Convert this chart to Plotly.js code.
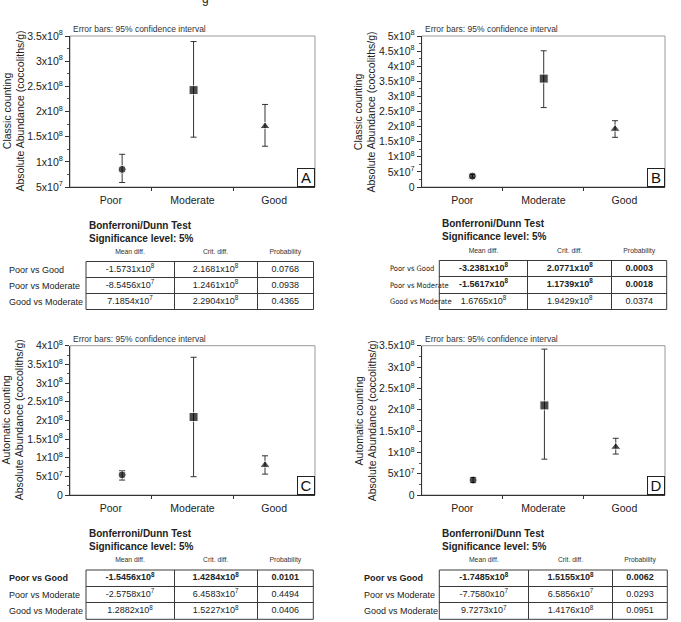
<!DOCTYPE html>
<html>
<head>
<meta charset="utf-8">
<script src="https://cdn.plot.ly/plotly-3.0.1.min.js"></script>
<style>html,body{margin:0;padding:0;background:#fff}</style>
</head>
<body>
<div id="chart" style="width:681px;height:622px"></div>
<script>
// ---- data -------------------------------------------------------------
const categories = ['Poor', 'Moderate', 'Good'];

// A: classic counting, site 1
const meanA = [8.5e7, 2.425e8, 1.705e8];
const lowA  = [5.9e7, 1.49e8, 1.31e8];
const highA = [1.15e8, 3.39e8, 2.14e8];
// B: classic counting, site 2
const meanB = [3.6e7, 3.59e8, 1.92e8];
const lowB  = [3.0e7, 2.63e8, 1.645e8];
const highB = [4.2e7, 4.51e8, 2.195e8];
// C: automatic counting, site 1
const meanC = [5.4e7, 2.09e8, 8.0e7];
const lowC  = [4.0e7, 4.9e7, 5.6e7];
const highC = [6.5e7, 3.69e8, 1.05e8];
// D: automatic counting, site 2
const meanD = [3.5e7, 2.10e8, 1.125e8];
const lowD  = [2.9e7, 8.4e7, 9.6e7];
const highD = [4.1e7, 3.42e8, 1.33e8];

const yRangeA = [5e7, 3.5e8];
const yRangeB = [0, 5e8];
const yRangeC = [0, 4e8];
const yRangeD = [0, 3.5e8];
const yTicksA = [5e7, 1e8, 1.5e8, 2e8, 2.5e8, 3e8, 3.5e8];
const yTicksB = [0, 5e7, 1e8, 1.5e8, 2e8, 2.5e8, 3e8, 3.5e8, 4e8, 4.5e8, 5e8];
const yTicksC = [0, 5e7, 1e8, 1.5e8, 2e8, 2.5e8, 3e8, 3.5e8, 4e8];
const yTicksD = [0, 5e7, 1e8, 1.5e8, 2e8, 2.5e8, 3e8, 3.5e8];

// Bonferroni/Dunn post-hoc tables
const comparisons = ['Poor vs Good', 'Poor vs Moderate', 'Good vs Moderate'];
const columnHeads = ['Mean diff.', 'Crit. diff.', 'Probability'];

const meanDiffA = [-1.5731e8, -8.5456e7, 7.1854e7];
const critDiffA = [2.1681e8, 1.2461e8, 2.2904e8];
const probA     = [0.0768, 0.0938, 0.4365];
const sigA      = [false, false, false];

const meanDiffB = [-3.2381e8, -1.5617e8, 1.6765e8];
const critDiffB = [2.0771e8, 1.1739e8, 1.9429e8];
const probB     = [0.0003, 0.0018, 0.0374];
const sigB      = [true, true, false];

const meanDiffC = [-1.5456e8, -2.5758e7, 1.2882e8];
const critDiffC = [1.4284e8, 6.4583e7, 1.5227e8];
const probC     = [0.0101, 0.4494, 0.0406];
const sigC      = [true, false, false];

const meanDiffD = [-1.7485e8, -7.7580e7, 9.7273e7];
const critDiffD = [1.5155e8, 6.5856e7, 1.4176e8];
const probD     = [0.0062, 0.0293, 0.0951];
const sigD      = [true, false, false];

// ---- helpers ----------------------------------------------------------
const W = 681, H = 622;
const FONT = 'Liberation Sans, Arial, Helvetica, sans-serif';
const NARROW = 'Liberation Sans Narrow, DejaVu Sans Condensed, Liberation Sans, Arial, sans-serif';
const INK = '#222';
const GRID = '#3a3a3a';

function sciTick(v) {
  if (v === 0) return '0';
  const [m, e] = v.toExponential().split('e');
  return m + 'x10<sup>' + (+e) + '</sup>';
}
function sciCell(v) {
  const [m, e] = v.toExponential(4).split('e');
  return m + 'x10<sup>' + (+e) + '</sup>';
}
const px = x => x / W;
const py = y => 1 - y / H;
const axId = (letter, n) => n === 1 ? letter : letter + n;           // 'x', 'x2', ...
const axKey = (letter, n) => n === 1 ? letter + 'axis' : letter + 'axis' + n;
const bold = (s, on) => on ? '<b>' + s + '</b>' : s;

// ---- panels -----------------------------------------------------------
// box = [left, right, top, bottom] in px; ptRange = x-range in category-index units
const panels = [
  {letter: 'A', title: 'Classic counting', mean: meanA, low: lowA, high: highA, range: yRangeA, ticks: yTicksA,
   box: [70, 315, 36, 187], titleX: 14, ptRange: [-0.73, 2.70]},
  {letter: 'B', title: 'Classic counting', mean: meanB, low: lowB, high: highB, range: yRangeB, ticks: yTicksB,
   box: [421.7, 665, 36, 187], titleX: 365, ptRange: [-0.71, 2.70]},
  {letter: 'C', title: 'Automatic counting', mean: meanC, low: lowC, high: highC, range: yRangeC, ticks: yTicksC,
   box: [70, 315, 345.7, 495], titleX: 13, ptRange: [-0.73, 2.70]},
  {letter: 'D', title: 'Automatic counting', mean: meanD, low: lowD, high: highD, range: yRangeD, ticks: yTicksD,
   box: [421.7, 665, 345.7, 495], titleX: 366, ptRange: [-0.72, 2.69]}
];

const tables = [
  {md: meanDiffA, cd: critDiffA, pr: probA, sig: sigA, boldLabel: false, labelFont: FONT, labelSize: 9,
   labelX: 9, gridLeft: 86, cols: [88, 83, 56.5], gridTop: 261.5, gridBottom: 309.5, sGap: 10,
   titleX: 87, titleY: 231.5},
  {md: meanDiffB, cd: critDiffB, pr: probB, sig: sigB, boldLabel: false, labelFont: NARROW, labelSize: 7.5,
   labelX: 390, gridLeft: 439.3, cols: [88.4, 84, 55], gridTop: 260.5, gridBottom: 309.5, sGap: 6.5,
   titleX: 440, titleY: 230.3},
  {md: meanDiffC, cd: critDiffC, pr: probC, sig: sigC, boldLabel: true, labelFont: FONT, labelSize: 9,
   labelX: 9, gridLeft: 86, cols: [88, 83.3, 56], gridTop: 570, gridBottom: 619.3, sGap: 10,
   titleX: 87, titleY: 539.7},
  {md: meanDiffD, cd: critDiffD, pr: probD, sig: sigD, boldLabel: true, labelFont: FONT, labelSize: 9,
   labelX: 364, gridLeft: 439.3, cols: [89, 84.4, 54.6], gridTop: 570, gridBottom: 619.3, sGap: 7,
   titleX: 440, titleY: 540}
];

const data = [];
const layout = {
  width: W, height: H,
  margin: {l: 0, r: 0, t: 0, b: 0},
  paper_bgcolor: '#fff', plot_bgcolor: 'rgba(0,0,0,0)',
  showlegend: false,
  font: {family: FONT, color: INK},
  shapes: [], annotations: []
};

panels.forEach((p, i) => {
  const n = i + 1;
  const xRef = axId('x', n), yRef = axId('y', n);
  const [l, r, t, b] = p.box;
  const step = p.ticks[1] - p.ticks[0];
  const [lo, hi] = p.ptRange;
  const bin = (hi - lo) / categories.length;   // width of one label bin

  layout[axKey('x', n)] = {
    domain: [px(l), px(r)], anchor: yRef, type: 'linear', range: p.ptRange,
    tickmode: 'array', tickvals: categories.map((_, k) => lo + (k + 0.5) * bin), ticktext: categories,
    ticks: 'outside', ticklen: 3, tickcolor: 'rgba(0,0,0,0)',
    minor: {tickmode: 'array', tickvals: categories.slice(1).map((_, k) => lo + (k + 1) * bin),
            ticks: 'outside', ticklen: 3, tickcolor: '#333', tickwidth: 1, showgrid: false},
    showline: true, linecolor: '#333', linewidth: 1,
    showgrid: false, zeroline: false, fixedrange: true,
    tickfont: {size: 10.5, color: INK, family: FONT}
  };
  layout[axKey('y', n)] = {
    domain: [py(b), py(t)], anchor: xRef, range: p.range,
    tickmode: 'array', tickvals: p.ticks, ticktext: p.ticks.map(sciTick),
    ticks: 'outside', ticklen: 4, tickcolor: '#333',
    minor: {tickmode: 'linear', tick0: 0, dtick: step / 2, ticks: 'outside', ticklen: 2,
            tickcolor: '#555', showgrid: false},
    showline: true, linecolor: '#333', linewidth: 1,
    showgrid: false, zeroline: false, fixedrange: true,
    tickfont: {size: 10.5, color: INK, family: FONT}
  };

  data.push({
    type: 'scatter', mode: 'markers',
    x: categories.map((_, k) => k), y: p.mean, text: categories,
    xaxis: xRef, yaxis: yRef,
    marker: {symbol: ['circle', 'square', 'triangle-up'], size: [8, 9, 9], color: '#000'},
    error_y: {type: 'data', symmetric: false,
              array: p.high.map((h, k) => h - p.mean[k]),
              arrayminus: p.mean.map((m, k) => m - p.low[k]),
              color: '#333', thickness: 1, width: 3},
    cliponaxis: false, hoverinfo: 'skip'
  });

  // light frame on the top and right of the plot area
  layout.shapes.push({type: 'rect', xref: xRef + ' domain', yref: yRef + ' domain',
    x0: 0, x1: 1, y0: 0, y1: 1, line: {color: '#9a9a9a', width: 1}, layer: 'below'});

  // panel letter
  layout.annotations.push({xref: xRef + ' domain', yref: yRef + ' domain', x: 1, y: 0,
    xanchor: 'right', yanchor: 'bottom', text: p.letter, showarrow: false,
    font: {size: 15, color: '#111', family: FONT}, bordercolor: '#222', borderwidth: 1,
    borderpad: 0, width: 16, height: 17});

  // note above the plot
  layout.annotations.push({xref: xRef + ' domain', yref: yRef + ' domain', x: 0, y: 1,
    xanchor: 'left', yanchor: 'bottom', xshift: 1, text: 'Error bars: 95% confidence interval',
    showarrow: false, font: {size: 8.5, color: '#333', family: FONT}});

  // y-axis title (two lines)
  layout.annotations.push({xref: 'paper', yref: yRef + ' domain', x: px(p.titleX), y: 0.5,
    xanchor: 'center', yanchor: 'middle', textangle: -90, showarrow: false,
    text: p.title + '<br>Absolute Abundance (coccoliths/g)',
    font: {size: 10.5, color: INK, family: FONT}});
});

// ---- tables (drawn on their own axes: grid lines = cell borders) ------
tables.forEach((tb, i) => {
  const xn = 5 + i, yn = 5 + i;
  const xRef = axId('x', xn), yRef = axId('y', yn);
  const total = tb.cols.reduce((a, c) => a + c, 0);
  const gridRight = tb.gridLeft + total;
  const nCols = columnHeads.length, nRows = comparisons.length;
  const unit = nCols / total;                   // x-units per pixel

  // relative column edges from the column widths
  const edges = [0];
  tb.cols.forEach(c => edges.push(edges[edges.length - 1] + c * unit));
  const centers = tb.cols.map((_, k) => (edges[k] + edges[k + 1]) / 2);

  layout[axKey('x', xn)] = {
    domain: [px(tb.gridLeft), px(gridRight)], anchor: yRef, range: [0, nCols],
    side: 'top', tickmode: 'array', tickvals: centers, ticktext: columnHeads,
    ticks: 'outside', ticklen: 4, tickcolor: 'rgba(0,0,0,0)',
    minor: {tickmode: 'array', tickvals: edges.slice(1, -1), ticks: '',
            showgrid: true, gridcolor: GRID, gridwidth: 1},
    showgrid: false, showline: false, zeroline: false, fixedrange: true,
    tickfont: {size: 6.8, color: '#333', family: FONT}
  };
  layout[axKey('y', yn)] = {
    domain: [py(tb.gridBottom), py(tb.gridTop)], anchor: 'free', position: px(tb.labelX - 4),
    range: [nRows, 0], side: 'left', ticklabelposition: 'inside',
    tickmode: 'array', tickvals: comparisons.map((_, k) => k + 0.5),
    ticktext: comparisons.map((c, k) => bold(c, tb.boldLabel && tb.sig[k])),
    ticks: '',
    minor: {tickmode: 'array', tickvals: comparisons.slice(1).map((_, k) => k + 1), ticks: '',
            showgrid: true, gridcolor: GRID, gridwidth: 1},
    showgrid: false, showline: false, zeroline: false, fixedrange: true,
    tickfont: {size: tb.labelSize, color: INK, family: tb.labelFont}
  };

  // cell contents
  const cx = [], cy = [], ct = [];
  comparisons.forEach((_, r) => {
    const row = [sciCell(tb.md[r]), sciCell(tb.cd[r]), tb.pr[r].toFixed(4)];
    row.forEach((txt, c) => { cx.push(centers[c]); cy.push(r + 0.5); ct.push(bold(txt, tb.sig[r])); });
  });
  data.push({type: 'scatter', mode: 'text', x: cx, y: cy, text: ct, xaxis: xRef, yaxis: yRef,
    textposition: 'middle center', textfont: {size: 9, color: INK, family: FONT},
    cliponaxis: false, hoverinfo: 'skip'});

  // significance flags to the right of the table
  data.push({type: 'scatter', mode: 'text', xaxis: xRef, yaxis: yRef,
    x: comparisons.map(() => nCols + tb.sGap * unit), y: comparisons.map((_, k) => k + 0.5),
    text: tb.sig.map(s => s ? '<b>S</b>' : ''),
    textposition: 'middle center', textfont: {size: 9.5, color: INK, family: FONT},
    cliponaxis: false, hoverinfo: 'skip'});

  // outer border of the table
  layout.shapes.push({type: 'rect', xref: xRef + ' domain', yref: yRef + ' domain',
    x0: 0, x1: 1, y0: 0, y1: 1, line: {color: GRID, width: 1}, layer: 'above'});

  layout.annotations.push({xref: 'paper', yref: 'paper', x: px(tb.titleX), y: py(tb.titleY),
    xanchor: 'left', yanchor: 'middle', align: 'left', showarrow: false,
    text: '<b>Bonferroni/Dunn Test</b><br><b>Significance level: 5%</b>',
    font: {size: 10, color: INK, family: FONT}});
});

// tail of the caption line running above the figure
layout.annotations.push({xref: 'paper', yref: 'paper', x: px(205), y: 1, yshift: 1,
  xanchor: 'center', yanchor: 'middle', text: 'g', showarrow: false,
  font: {size: 12, color: INK, family: FONT}});

Plotly.newPlot('chart', data, layout, {staticPlot: true, displayModeBar: false});
</script>
</body>
</html>
